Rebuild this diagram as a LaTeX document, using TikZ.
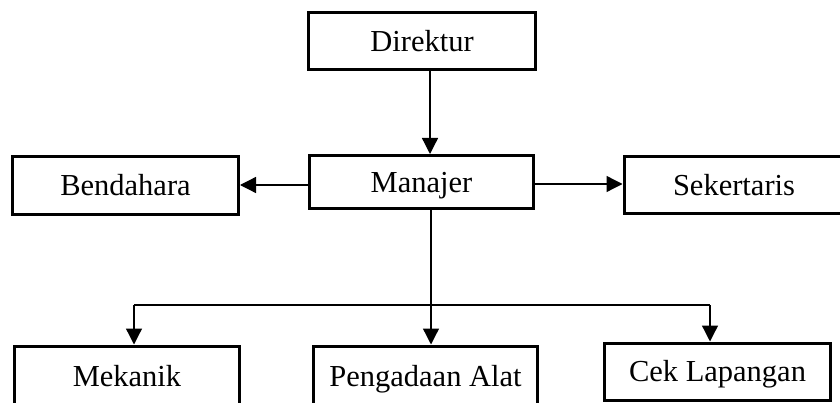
\documentclass[tikz,border=0pt]{standalone}
\usepackage{fontspec}
\setmainfont{Liberation Serif}
\usetikzlibrary{arrows.meta}
\begin{document}
\begin{tikzpicture}[x=1pt,y=-1pt,
  box/.style={draw=black,line width=3pt,rectangle,inner sep=0pt,
    font=\fontsize{30.5}{36}\selectfont,text=black,text height=20.5pt,text depth=0pt},
  arr/.style={draw=black,line width=1.3pt,-{Triangle[width=16pt,length=16pt]}},
  ln/.style={draw=black,line width=1.3pt}]
\useasboundingbox (0,0) rectangle (840,403);
\clip (0,0) rectangle (840,403);
\node[box,minimum width=227pt,minimum height=57pt] (dir) at (422,41.5) {Direktur};
\node[box,minimum width=224pt,minimum height=53pt] (man) at (421.5,182) {Manajer};
\node[box,minimum width=226pt,minimum height=58pt] (ben) at (125.5,185.5) {Bendahara};
\node[box,minimum width=220pt,minimum height=57pt] (sek) at (734,185) {Sekertaris};
\node[box,minimum width=225pt,minimum height=60pt] (mek) at (127,376) {Mekanik};
\node[box,minimum width=224pt,minimum height=60pt] (pen) at (425.5,376) {Pengadaan Alat};
\node[box,minimum width=226pt,minimum height=57pt] (cek) at (717.5,371.5) {Cek Lapangan};
\coordinate (xa) at (430,0);
\coordinate (xt) at (431,0);
\coordinate (bus) at (431,305);
\coordinate (busl) at (134,305);
\coordinate (busr) at (710,305);
\draw[arr] (dir.south -| xa) -- (man.north -| xa);
\draw[arr] (man.west |- 0,185) -- (ben.east |- 0,185);
\draw[arr] (man.east |- 0,184) -- (sek.west |- 0,184);
\draw[arr] (man.south -| xt) -- (pen.north -| xt);
\draw[ln] (busl) -- (busr);
\draw[arr] (busl) -- (mek.north -| busl);
\draw[arr] (busr) -- (cek.north -| busr);
\end{tikzpicture}
\end{document}
